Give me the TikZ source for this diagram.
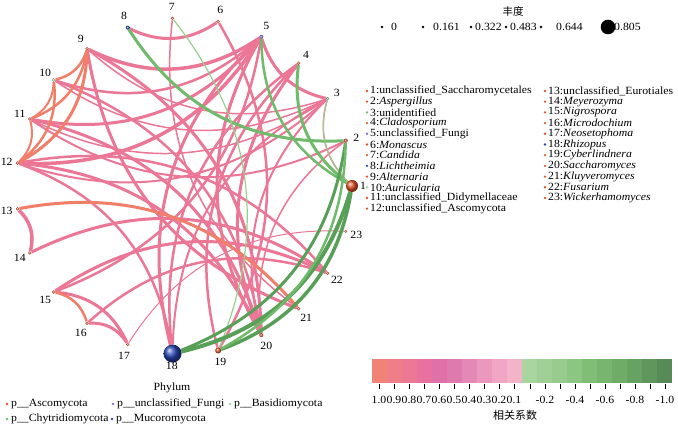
\documentclass[tikz,border=0pt]{standalone}
\usepackage{fontspec}
\setmainfont{Liberation Serif}[FakeStretch=1.07]
\newfontfamily\cjk{Noto Sans CJK SC}
\pgfdeclarelayer{bg}
\pgfsetlayers{bg,main}
\definecolor{asc}{RGB}{232,84,40}
\definecolor{unf}{RGB}{150,110,210}
\definecolor{bas}{RGB}{160,215,160}
\definecolor{chy}{RGB}{100,190,100}
\definecolor{muc}{RGB}{40,70,180}
\definecolor{epk}{RGB}{236,118,150}
\definecolor{eor}{RGB}{240,126,104}
\definecolor{egn}{RGB}{112,186,108}
\definecolor{egd}{RGB}{88,160,88}
\definecolor{egl}{RGB}{150,208,140}
\tikzset{
  dot/.style={circle,inner sep=0pt},
  lbl/.style={font=\fontsize{11}{11}\selectfont, inner sep=0pt},
  inw/.style={bend left=30},
  outw/.style={bend right=30},
  leg/.style={anchor=west, inner sep=0pt, font=\fontsize{11}{11}\selectfont},
  txt/.style={inner sep=0pt, font=\fontsize{11}{11}\selectfont},
}
\begin{document}
\begin{tikzpicture}[x=1pt,y=1pt]
\useasboundingbox (0,0) rectangle (678,427);

% network nodes
\foreach \k/\col/\sz in {1/asc/12,2/asc/4,3/chy/3.5,4/asc/3.5,5/unf/4,6/asc/3.5,7/asc/3.5,8/muc/4,9/asc/3.5,10/bas/3.5,11/asc/3.5,12/asc/3.5,13/asc/3.5,14/asc/3.5,15/asc/3.5,16/asc/3.5,17/asc/3.5,18/muc/18,19/asc/6,20/asc/4,21/asc/3.5,22/asc/3.5,23/asc/3}{
  \pgfmathsetmacro\ang{(\k-1)*360/23}
  \node[dot, minimum size=\sz pt, ball color=\col] (n\k) at ({184+168*cos(\ang)},{241+168*sin(\ang)}) {};
  \node[lbl] (t\k) at ({184+179*cos(\ang)},{241+180*sin(\ang)}) {\k};
}

% connectors
\begin{pgfonlayer}{bg}
\fill[white] (0,0) rectangle (678,427);
\foreach \a/\b/\ec/\w/\s in {
 6/8/epk/3/inw, 5/9/epk/3.5/inw, 5/10/epk/2.5/inw, 5/11/epk/3/inw, 5/12/epk/3.5/inw,
 3/5/epk/3/inw, 5/20/epk/3/inw, 5/15/epk/2.5/inw, 9/20/epk/3/inw, 9/21/epk/3/inw,
 10/20/epk/2.5/inw, 11/20/epk/3/inw, 2/11/epk/2/inw, 3/11/epk/1.5/inw, 3/12/epk/2/inw,
 3/9/epk/1.5/inw, 3/10/epk/1.5/inw, 12/20/epk/3/inw, 12/22/epk/2.5/inw, 13/14/epk/3.5/inw,
 14/22/epk/3/inw, 15/22/epk/3/inw, 15/17/epk/3/inw, 16/17/epk/3/inw, 16/22/epk/2.5/inw,
 17/23/epk/1/inw, 6/19/epk/2.5/outw, 7/21/epk/1.5/inw, 4/20/epk/3/inw,
 4/19/epk/2.5/inw, 3/20/epk/2/inw, 18/5/epk/3/inw, 18/4/epk/2.5/inw, 18/3/epk/2/inw,
 18/12/epk/2.5/inw, 1/3/epk/1.5/inw, 2/20/epk/1.5/inw,
 9/10/eor/2.5/inw, 9/11/eor/2.5/inw, 9/12/eor/3/inw, 10/11/eor/2/inw, 10/12/eor/2.5/inw,
 11/12/eor/2/inw, 13/21/eor/3/inw, 15/16/eor/2.5/inw,
 8/2/egn/3/inw, 5/1/egn/2.5/inw, 4/1/egn/3/inw, 3/1/egl/1/inw, 7/19/egl/1.2/outw,
 2/18/egd/3/outw, 1/18/egd/4/outw, 1/19/egd/3.5/outw, 2/19/egn/2.5/outw}{
  \pgfmathtruncatemacro\d{mod(\b-\a+23,23)}
  \ifnum\d<12 \def\src{\a}\def\dst{\b}\else\def\src{\b}\def\dst{\a}\fi
  \draw[\ec, line width=\w pt] (n\src) to[\s] (n\dst);
}
\end{pgfonlayer}

% abundance legend
\node[inner sep=0pt, font=\cjk\fontsize{10.5}{10.5}\selectfont] (abt) at (513,416) {丰度};
\foreach \x in {382,423,471,506,541} \fill[black] (\x,400) circle (1.3);
\fill[black] (608,400) circle (7.3);
\foreach \x/\v in {391/0,433/0.161,475/0.322,510/0.483,556/0.644,614/0.805}
  \node[txt, anchor=west] at (\x,400) {\v};

% species legend, left column
\foreach \r/\col/\t in {0/asc/{1:unclassified\_Saccharomycetales},1/asc/{2:\textit{Aspergillus}},2/chy/{3:unidentified},3/asc/{4:\textit{Cladosporium}},4/unf/{5:unclassified\_Fungi},5/asc/{6:\textit{Monascus}},6/asc/{7:\textit{Candida}},7/muc/{8:\textit{Lichtheimia}},8/asc/{9:\textit{Alternaria}},9/bas/{10:\textit{Auricularia}},10/asc/{11:unclassified\_Didymellaceae},11/asc/{12:unclassified\_Ascomycota}}{
  \fill[\col] (367,{336-10.7*\r}) circle (1.3);
  \node[leg] (ll\r) at (370,{336-10.7*\r}) {\t};
}
% species legend, right column
\foreach \r/\col/\t in {0/asc/{13:unclassified\_Eurotiales},1/asc/{14:\textit{Meyerozyma}},2/asc/{15:\textit{Nigrospora}},3/asc/{16:\textit{Microdochium}},4/asc/{17:\textit{Neosetophoma}},5/muc/{18:\textit{Rhizopus}},6/asc/{19:\textit{Cyberlindnera}},7/asc/{20:\textit{Saccharomyces}},8/asc/{21:\textit{Kluyveromyces}},9/asc/{22:\textit{Fusarium}},10/asc/{23:\textit{Wickerhamomyces}}}{
  \fill[\col] (545,{336-10.7*\r}) circle (1.3);
  \node[leg] (lr\r) at (548,{336-10.7*\r}) {\t};
}

% colour bar
\foreach \i/\R/\G/\B in {0/242/130/118,1/239/126/136,2/236/120/148,3/232/113/160,4/224/112/168,5/222/122/173,6/228/136/181,7/236/151/189,8/240/166/196,9/243/179/201,
 10/168/214/158,11/160/208/150,12/152/204/142,13/140/198/130,14/128/190/118,15/118/182/110,16/110/172/104,17/102/162/98,18/94/150/92,19/86/138/86}
  \fill[fill={rgb,255:red,\R;green,\G;blue,\B}] ({372+15*\i},44) rectangle ({387+15*\i},68);
\foreach \i in {0,...,9} {
  \draw[line width=1pt] ({379+15*\i},43) -- ({379+15*\i},38);
  \draw[line width=1pt] ({530+15*\i},43) -- ({530+15*\i},38);
}
\foreach \x/\v in {379/1.0,394/0.9,409/0.8,424/0.7,439/0.6,454/0.5,469/0.4,484/0.3,499/0.2,514/0.1,545/-0.2,575/-0.4,605/-0.6,635/-0.8,665/-1.0}
  \node[txt] at (\x,27) {\v};
\node[inner sep=0pt, font=\cjk\fontsize{11}{11}\selectfont] (cbt) at (515,12) {相关系数};

% phylum legend
\node[txt] (ph) at (172,39) {Phylum};
\foreach \x/\y/\col/\t in {7/23/asc/{p\_\_Ascomycota},113/23/unf/{p\_\_unclassified\_Fungi},230/23/bas/{p\_\_Basidiomycota},7/8/chy/{p\_\_Chytridiomycota},112/8/muc/{p\_\_Mucoromycota}}{
  \fill[\col] (\x,\y) circle (1.3);
  \node[txt, anchor=west] at ({\x+4},\y) {\t};
}
\end{tikzpicture}
\end{document}
